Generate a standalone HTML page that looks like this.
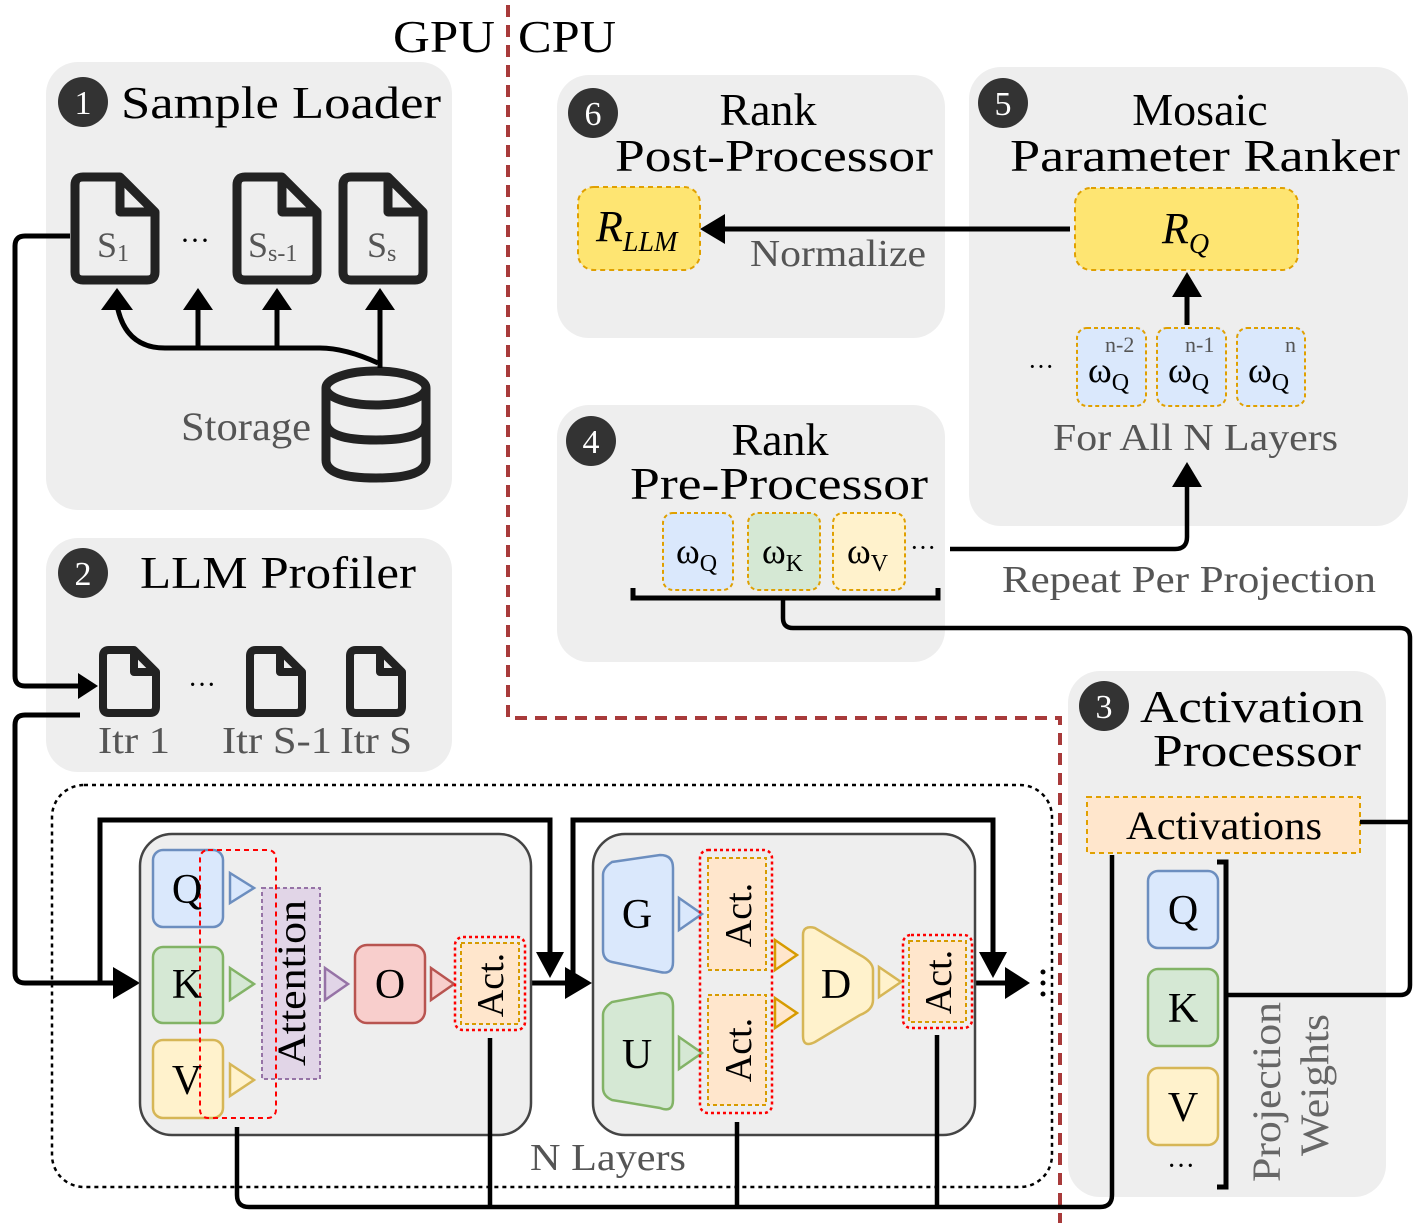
<!DOCTYPE html>
<html><head><meta charset="utf-8"><style>
html,body{margin:0;padding:0;background:#fff}
svg{display:block}
text{font-family:"Liberation Serif","DejaVu Serif",serif}
</style></head><body>
<svg width="1426" height="1223" viewBox="0 0 1426 1223" xmlns="http://www.w3.org/2000/svg">
<!-- panels -->
<g fill="#eeeeee">
<rect x="46" y="62" width="406" height="448" rx="32"/>
<rect x="46" y="538" width="406" height="234" rx="32"/>
<rect x="557" y="75" width="388" height="263" rx="32"/>
<rect x="969" y="67" width="439" height="459" rx="32"/>
<rect x="557" y="405" width="388" height="257" rx="32"/>
<rect x="1068" y="671" width="318" height="526" rx="32"/>
</g>
<!-- red divider -->
<path d="M508 5V718H1060V1223" fill="none" stroke="#a83a3a" stroke-width="4" stroke-dasharray="12 8"/>
<text x="393" y="52" font-size="46" textLength="102" lengthAdjust="spacingAndGlyphs">GPU</text>
<text x="518" y="52" font-size="46" textLength="98" lengthAdjust="spacingAndGlyphs">CPU</text>

<!-- number circles -->
<g fill="#333"><circle cx="83" cy="102" r="25"/><circle cx="83" cy="573" r="25"/><circle cx="593" cy="113" r="25"/><circle cx="1003" cy="103" r="25"/><circle cx="591" cy="441" r="25"/><circle cx="1104" cy="706" r="25"/></g>
<g fill="#fff" font-size="34" text-anchor="middle"><text x="83" y="114">1</text><text x="83" y="585">2</text><text x="593" y="125">6</text><text x="1003" y="115">5</text><text x="591" y="453">4</text><text x="1104" y="718">3</text></g>

<!-- titles -->
<g font-size="46">
<text x="121" y="118" textLength="320" lengthAdjust="spacingAndGlyphs">Sample Loader</text>
<text x="140" y="588" textLength="276" lengthAdjust="spacingAndGlyphs">LLM Profiler</text>
<text x="768" y="125" text-anchor="middle">Rank</text>
<text x="615" y="171" textLength="318" lengthAdjust="spacingAndGlyphs">Post-Processor</text>
<text x="1200" y="125" text-anchor="middle">Mosaic</text>
<text x="1010" y="171" textLength="390" lengthAdjust="spacingAndGlyphs">Parameter Ranker</text>
<text x="780" y="455" text-anchor="middle">Rank</text>
<text x="630" y="499" textLength="298" lengthAdjust="spacingAndGlyphs">Pre-Processor</text>
<text x="1140" y="722" textLength="224" lengthAdjust="spacingAndGlyphs">Activation</text>
<text x="1153" y="766" textLength="208" lengthAdjust="spacingAndGlyphs">Processor</text>
</g>

<!-- docs -->
<g fill="none" stroke="#222" stroke-width="9" stroke-linejoin="round">
<path d="M83 177H120L155 212V272Q155 280 147 280H83Q75 280 75 272V185Q75 177 83 177ZM120 177V212H155"/>
<path d="M245 177H282L317 212V272Q317 280 309 280H245Q237 280 237 272V185Q237 177 245 177ZM282 177V212H317"/>
<path d="M351 177H388L423 212V272Q423 280 415 280H351Q343 280 343 272V185Q343 177 351 177ZM388 177V212H423"/>
</g>
<g fill="none" stroke="#222" stroke-width="8" stroke-linejoin="round">
<path d="M109 650H134L156 672V707Q156 713 150 713H109Q103 713 103 707V656Q103 650 109 650ZM134 650V672H156"/>
<path d="M256 650H280L302 672V707Q302 713 296 713H256Q250 713 250 707V656Q250 650 256 650ZM280 650V672H302"/>
<path d="M356 650H380L402 672V707Q402 713 396 713H356Q350 713 350 707V656Q350 650 356 650ZM380 650V672H402"/>
</g>
<g fill="#555" font-size="36">
<text x="97" y="257">S<tspan font-size="24" dy="4">1</tspan></text>
<text x="248" y="257">S<tspan font-size="24" dy="4">s-1</tspan></text>
<text x="367" y="257">S<tspan font-size="24" dy="4">s</tspan></text>
<text x="98" y="753" font-size="38" textLength="72" lengthAdjust="spacingAndGlyphs">Itr 1</text>
<text x="222" y="753" font-size="38" textLength="110" lengthAdjust="spacingAndGlyphs">Itr S-1</text>
<text x="340" y="753" font-size="38" textLength="72" lengthAdjust="spacingAndGlyphs">Itr S</text>
<text x="181" y="440" font-size="40" textLength="130" lengthAdjust="spacingAndGlyphs">Storage</text>
</g>
<text x="180" y="250" font-size="30">···</text>
<text x="188" y="694" font-size="28">···</text>

<!-- storage -->
<g fill="none" stroke="#222" stroke-width="9">
<ellipse cx="376" cy="388" rx="50" ry="17"/>
<path d="M326 388V460Q326 478 376 478Q426 478 426 460V388M326 422Q326 440 376 440Q426 440 426 422"/>
</g>
<g fill="none" stroke="#000" stroke-width="5">
<path d="M117 305Q125 348 165 348H320Q345 348 378 363"/>
<path d="M198 348V305M277 348V305M380 368V305"/>
</g>
<g fill="#000"><path d="M101 310L117 288L133 310Z"/><path d="M183 310L198 288L213 310Z"/><path d="M262 310L277 288L292 310Z"/><path d="M365 310L380 288L395 310Z"/></g>

<!-- left connectors -->
<g fill="none" stroke="#000" stroke-width="5">
<path d="M70 236H25Q15 236 15 246V676Q15 686 25 686H80"/>
<path d="M80 715H25Q15 715 15 725V973Q15 983 25 983H120"/>
<path d="M100 983V820H550V965"/>
<path d="M531 983H575"/>
<path d="M573 983V820H993V965"/>
<path d="M975 983H1015"/>
</g>
<g fill="#000">
<path d="M78 673L98 686L78 699Z"/>
<path d="M113 967L140 983L113 999Z"/>
<path d="M565 967L592 983L565 999Z"/>
<path d="M1005 967L1030 983L1005 999Z"/>
<path d="M536 952L550 978L564 952Z"/>
<path d="M979 952L993 978L1007 952Z"/>
<circle cx="1043" cy="972" r="2.5"/><circle cx="1043" cy="983" r="2.5"/><circle cx="1043" cy="994" r="2.5"/>
</g>

<!-- N layers box -->
<rect x="52" y="785" width="1000" height="402" rx="32" fill="none" stroke="#000" stroke-width="2.5" stroke-dasharray="4 4"/>
<text x="530" y="1170" font-size="38" fill="#555" textLength="156" lengthAdjust="spacingAndGlyphs">N Layers</text>

<!-- blocks -->
<rect x="140" y="834" width="391" height="301" rx="32" fill="#eeeeee" stroke="#444" stroke-width="2.5"/>
<rect x="593" y="834" width="382" height="301" rx="32" fill="#eeeeee" stroke="#444" stroke-width="2.5"/>

<!-- attention -->
<rect x="153" y="850" width="70" height="77" rx="10" fill="#dae8fc" stroke="#6c8ebf" stroke-width="2.5"/>
<rect x="153" y="947" width="70" height="76" rx="10" fill="#d5e8d4" stroke="#82b366" stroke-width="2.5"/>
<rect x="153" y="1040" width="70" height="78" rx="10" fill="#fff2cc" stroke="#d6b656" stroke-width="2.5"/>
<path d="M230 873L254 888L230 903Z" fill="#dae8fc" stroke="#6c8ebf" stroke-width="2.5"/>
<path d="M230 968L254 984L230 1000Z" fill="#d5e8d4" stroke="#82b366" stroke-width="2.5"/>
<path d="M230 1064L254 1080L230 1096Z" fill="#fff2cc" stroke="#d6b656" stroke-width="2.5"/>
<rect x="262" y="888" width="58" height="191" fill="#e1d5e7" stroke="#9673a6" stroke-width="2" stroke-dasharray="4 3"/>
<rect x="200" y="850" width="76" height="268" rx="8" fill="none" stroke="#f00" stroke-width="2" stroke-dasharray="5 4"/>
<path d="M325 968L348 984L325 1000Z" fill="#e1d5e7" stroke="#9673a6" stroke-width="2.5"/>
<rect x="355" y="945" width="70" height="78" rx="12" fill="#f8cecc" stroke="#b85450" stroke-width="2.5"/>
<path d="M431 968L454 984L431 1000Z" fill="#f8cecc" stroke="#b85450" stroke-width="2.5"/>
<rect x="455" y="937" width="70" height="93" rx="8" fill="none" stroke="#f00" stroke-width="2.5" stroke-dasharray="3 3"/>
<rect x="461" y="943" width="58" height="81" fill="#ffe6cc" stroke="#d79b00" stroke-width="2" stroke-dasharray="4 3"/>
<g font-size="42" text-anchor="middle">
<text x="187" y="903">Q</text><text x="187" y="998">K</text><text x="187" y="1094">V</text><text x="390" y="998">O</text>
<text transform="translate(305 983) rotate(-90)" font-size="40" textLength="166" lengthAdjust="spacingAndGlyphs">Attention</text>
<text transform="translate(503 985) rotate(-90)" font-size="38">Act.</text>
</g>

<!-- MLP -->
<path d="M603 875Q603 868 612 862L660 855Q673 855 673 868V962Q673 975 660 972L612 962Q603 960 603 950Z" fill="#dae8fc" stroke="#6c8ebf" stroke-width="2.5"/>
<path d="M603 1015Q603 1008 612 1002L660 993Q673 993 673 1006V1100Q673 1113 660 1108L612 1100Q603 1096 603 1088Z" fill="#d5e8d4" stroke="#82b366" stroke-width="2.5"/>
<path d="M679 898L702 914L679 930Z" fill="#dae8fc" stroke="#6c8ebf" stroke-width="2.5"/>
<path d="M679 1037L702 1053L679 1069Z" fill="#d5e8d4" stroke="#82b366" stroke-width="2.5"/>
<rect x="700" y="850" width="72" height="263" rx="8" fill="none" stroke="#f00" stroke-width="2.5" stroke-dasharray="3 3"/>
<rect x="708" y="858" width="58" height="112" fill="#ffe6cc" stroke="#d79b00" stroke-width="2" stroke-dasharray="4 3"/>
<rect x="708" y="995" width="58" height="110" fill="#ffe6cc" stroke="#d79b00" stroke-width="2" stroke-dasharray="4 3"/>
<path d="M775 940L797 955L775 970Z" fill="#ffe6cc" stroke="#d79b00" stroke-width="2.5"/>
<path d="M775 998L797 1013L775 1028Z" fill="#ffe6cc" stroke="#d79b00" stroke-width="2.5"/>
<path d="M803 935Q803 925 815 928L860 955Q873 962 873 970V1000Q873 1010 860 1015L815 1042Q803 1048 803 1036Z" fill="#fff2cc" stroke="#d6b656" stroke-width="2.5"/>
<path d="M879 967L901 982L879 997Z" fill="#fff2cc" stroke="#d6b656" stroke-width="2.5"/>
<rect x="903" y="935" width="69" height="93" rx="8" fill="none" stroke="#f00" stroke-width="2.5" stroke-dasharray="3 3"/>
<rect x="909" y="941" width="57" height="81" fill="#ffe6cc" stroke="#d79b00" stroke-width="2" stroke-dasharray="4 3"/>
<g font-size="42" text-anchor="middle">
<text x="637" y="928">G</text><text x="637" y="1068">U</text><text x="836" y="998">D</text>
<text transform="translate(751 915) rotate(-90)" font-size="38">Act.</text>
<text transform="translate(751 1050) rotate(-90)" font-size="38">Act.</text>
<text transform="translate(951 982) rotate(-90)" font-size="38">Act.</text>
</g>

<!-- bottom return lines -->
<g fill="none" stroke="#000" stroke-width="4.5">
<path d="M237 1127V1195Q237 1207 249 1207H1100Q1112 1207 1112 1195V855"/>
<path d="M490 1038V1207M737 1122V1207M937 1035V1207"/>
</g>

<!-- panel 3 -->
<rect x="1087" y="797" width="273" height="56" fill="#ffe6cc" stroke="#e0a000" stroke-width="2" stroke-dasharray="5 4"/>
<text x="1126" y="839" font-size="40" textLength="196" lengthAdjust="spacingAndGlyphs">Activations</text>
<rect x="1148" y="871" width="70" height="77" rx="10" fill="#dae8fc" stroke="#6c8ebf" stroke-width="2.5"/>
<rect x="1148" y="969" width="70" height="77" rx="10" fill="#d5e8d4" stroke="#82b366" stroke-width="2.5"/>
<rect x="1148" y="1068" width="70" height="77" rx="10" fill="#fff2cc" stroke="#d6b656" stroke-width="2.5"/>
<g font-size="42" text-anchor="middle"><text x="1183" y="924">Q</text><text x="1183" y="1022">K</text><text x="1183" y="1121">V</text></g>
<text x="1181" y="1175" font-size="28" text-anchor="middle">···</text>
<path d="M1217 862H1226V1187H1217" fill="none" stroke="#000" stroke-width="5"/>
<g fill="#666" font-size="40">
<text transform="translate(1280 1182) rotate(-90)" textLength="180" lengthAdjust="spacingAndGlyphs">Projection</text>
<text transform="translate(1328 1156) rotate(-90)" textLength="142" lengthAdjust="spacingAndGlyphs">Weights</text>
</g>
<g fill="none" stroke="#000" stroke-width="4.5">
<path d="M1360 822H1410"/>
<path d="M783 598V618Q783 628 793 628H1400Q1410 628 1410 638V985Q1410 995 1400 995H1228"/>
</g>

<!-- panel 4 -->
<rect x="663" y="513" width="70" height="77" rx="10" fill="#dae8fc" stroke="#e0a000" stroke-width="2" stroke-dasharray="4 3"/>
<rect x="748" y="513" width="72" height="77" rx="10" fill="#d5e8d4" stroke="#e0a000" stroke-width="2" stroke-dasharray="4 3"/>
<rect x="833" y="513" width="72" height="77" rx="10" fill="#fff2cc" stroke="#e0a000" stroke-width="2" stroke-dasharray="4 3"/>
<g font-size="36"><text x="676" y="563">ω<tspan font-size="24" dy="8">Q</tspan></text><text x="762" y="563">ω<tspan font-size="24" dy="8">K</tspan></text><text x="847" y="563">ω<tspan font-size="24" dy="8">V</tspan></text></g>
<text x="910" y="556" font-size="26">···</text>
<path d="M633 588V598H938V588" fill="none" stroke="#000" stroke-width="5"/>
<path d="M950 549H1175Q1187 549 1187 537V480" fill="none" stroke="#000" stroke-width="4.5"/>
<path d="M1172 487L1187 462L1202 487Z"/>
<text x="1002" y="592" font-size="38" fill="#555" textLength="374" lengthAdjust="spacingAndGlyphs">Repeat Per Projection</text>

<!-- panel 5 -->
<rect x="1075" y="188" width="223" height="82" rx="16" fill="#fee572" stroke="#e0a000" stroke-width="2" stroke-dasharray="5 4"/>
<text x="1162" y="243" font-size="44" font-style="italic">R<tspan font-size="28" dy="10">Q</tspan></text>
<path d="M1187 325V290" stroke="#000" stroke-width="5"/>
<path d="M1172 297L1187 272L1202 297Z"/>
<rect x="1077" y="328" width="69" height="78" rx="10" fill="#dae8fc" stroke="#e0a000" stroke-width="2" stroke-dasharray="4 3"/>
<rect x="1157" y="328" width="69" height="78" rx="10" fill="#dae8fc" stroke="#e0a000" stroke-width="2" stroke-dasharray="4 3"/>
<rect x="1237" y="328" width="68" height="78" rx="10" fill="#dae8fc" stroke="#e0a000" stroke-width="2" stroke-dasharray="4 3"/>
<g font-size="22" fill="#555"><text x="1105" y="352">n-2</text><text x="1185" y="352">n-1</text><text x="1285" y="352">n</text></g>
<g font-size="36"><text x="1088" y="382">ω<tspan font-size="24" dy="8">Q</tspan></text><text x="1168" y="382">ω<tspan font-size="24" dy="8">Q</tspan></text><text x="1248" y="382">ω<tspan font-size="24" dy="8">Q</tspan></text></g>
<text x="1028" y="375" font-size="26">···</text>
<text x="1053" y="450" font-size="38" fill="#555" textLength="285" lengthAdjust="spacingAndGlyphs">For All N Layers</text>

<!-- panel 6 -->
<rect x="578" y="187" width="122" height="83" rx="16" fill="#fee572" stroke="#e0a000" stroke-width="2" stroke-dasharray="5 4"/>
<text x="596" y="241" font-size="44" font-style="italic">R<tspan font-size="28" dy="10">LLM</tspan></text>
<path d="M1070 229H720" stroke="#000" stroke-width="5"/>
<path d="M725 214L700 229L725 244Z"/>
<text x="750" y="266" font-size="38" fill="#555" textLength="176" lengthAdjust="spacingAndGlyphs">Normalize</text>
</svg>
</body></html>
